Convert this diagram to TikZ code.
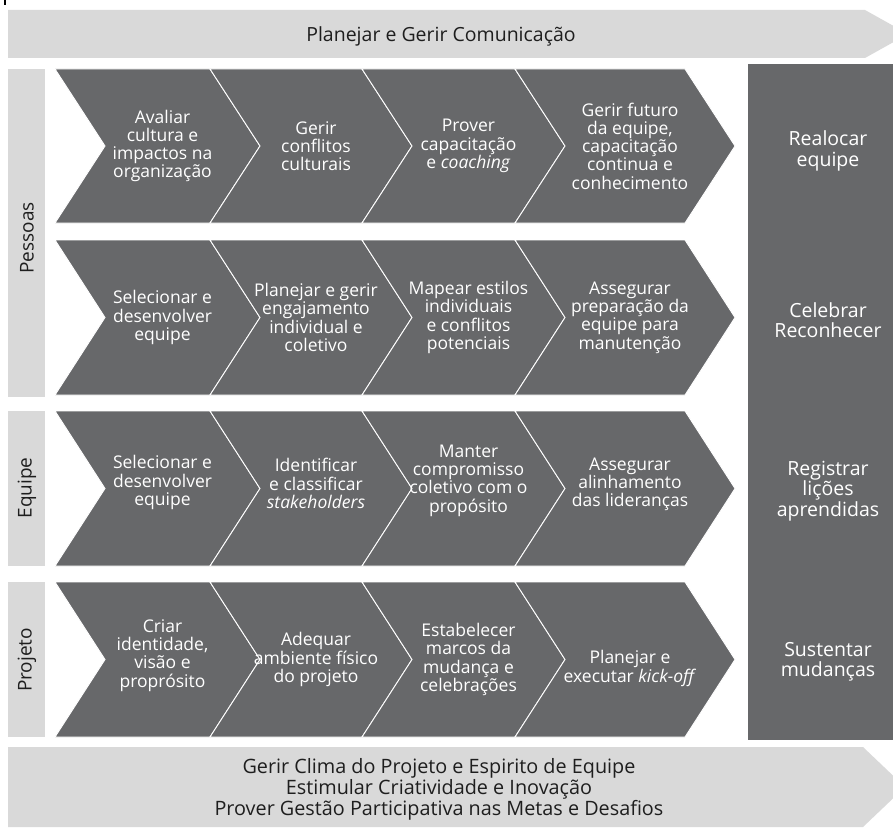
\documentclass[tikz,border=0pt]{standalone}
\usepackage{fontspec}
\setmainfont{Open Sans}
\usetikzlibrary{positioning}

\definecolor{chevgray}{RGB}{103,104,106}
\definecolor{bandgray}{RGB}{217,217,217}
\definecolor{textdark}{RGB}{30,30,30}

% chevron: name, left x, right x, top y, bottom y, text options, text
\newcommand{\chevron}[7]{%
  \filldraw[chevron] (#2,#4) -- (#3,#4) -- (#3+50,{(#4+#5)/2}) -- (#3,#5)
    -- (#2,#5) -- (#2+50,{(#4+#5)/2}) -- cycle;
  \node[chevtext,#6] (#1) at ({(#2+#3+50)/2+5},{(#4+#5)/2}) {#7};
}

\begin{document}
\begin{tikzpicture}[x=1pt,y=-1pt,
  chevron/.style={fill=chevgray,draw=white,line width=0.9pt},
  chevtext/.style={text=white,align=center,inner sep=0pt,font=\fontsize{17.5}{18.3}\selectfont},
  sidetext/.style={text=white,align=center,inner sep=0pt,font=\fontsize{19.5}{20.5}\selectfont},
  bandtext/.style={text=textdark,align=center,inner sep=0pt,font=\fontsize{19.8}{17.5}\selectfont},
  rowlabel/.style={text=textdark,rotate=90,inner sep=0pt,font=\fontsize{19}{20}\selectfont}]

	\useasboundingbox (0,0) rectangle (893,829);
	\clip (0,0) rectangle (893,829);

	\draw[black,line width=2pt] (5,0) -- (5,5);

	% top band
	\fill[bandgray] (8,10) -- (865,10) -- (908,34) -- (865,58) -- (8,58) -- cycle;
	\node[bandtext,font=\fontsize{19.5}{20}\selectfont] (comunicacao) at (441,36) {Planejar e Gerir Comunicação};

	% row labels
	\fill[bandgray] (8,69) rectangle (45,397);
	\fill[bandgray] (8,411) rectangle (45,566);
	\fill[bandgray] (8,582) rectangle (45,737);
	\node[rowlabel] (pessoas) at (27,238) {Pessoas};
	\node[rowlabel] (equipe) at (27,488) {Equipe};
	\node[rowlabel] (projeto) at (27,660) {Projeto};

	% Pessoas, first row
	\chevron{avaliar}{55}{210}{69}{223}{}{Avaliar\\cultura e\\impactos na\\organização}
	\chevron{conflitos}{210}{362}{69}{223}{}{Gerir\\conflitos\\culturais}
	\chevron{capacitacao}{362}{515}{69}{223}{}{Prover\\capacitação\\e \textit{coaching}}
	\chevron{futuro}{515}{685}{69}{223}{}{Gerir futuro\\da equipe,\\capacitação\\continua e\\conhecimento}

	% Pessoas, second row
	\chevron{selecionar}{55}{210}{240}{395}{}{Selecionar e\\desenvolver\\equipe}
	\chevron{engajamento}{210}{362}{240}{395}{}{Planejar e gerir\\engajamento\\individual e\\coletivo}
	\chevron{estilos}{362}{515}{240}{395}{}{Mapear estilos\\individuais\\e conflitos\\potenciais}
	\chevron{preparacao}{515}{685}{240}{395}{}{Assegurar\\preparação da\\equipe para\\manutenção}

	% Equipe
	\chevron{selequipe}{55}{210}{411}{566}{yshift=6pt}{Selecionar e\\desenvolver\\equipe}
	\chevron{stakeholders}{210}{362}{411}{566}{yshift=5pt}{Identificar\\e classificar\\\textit{stakeholders}}
	\chevron{compromisso}{362}{515}{411}{566}{yshift=8pt}{Manter\\compromisso\\coletivo com o\\propósito}
	\chevron{liderancas}{515}{685}{411}{566}{yshift=4pt}{Assegurar\\alinhamento\\das lideranças}

	% Projeto
	\chevron{identidade}{55}{210}{582}{737}{yshift=4pt}{Criar\\identidade,\\visão e\\proprósito}
	\chevron{ambiente}{210}{362}{582}{737}{}{Adequar\\ambiente físico\\do projeto}
	\chevron{marcos}{362}{515}{582}{737}{}{Estabelecer\\marcos da\\mudança e\\celebrações}
	\chevron{kickoff}{515}{685}{582}{737}{yshift=-9pt}{Planejar e\\executar \textit{kick-off}}

	% right column
	\fill[chevgray] (748,64) rectangle (908,740);
	\node[sidetext] (realocar) at (828,151) {Realocar\\equipe};
	\node[sidetext] (celebrar) at (828,320) {Celebrar\\Reconhecer};
	\node[sidetext] (licoes) at (828,491) {Registrar\\lições\\aprendidas};
	\node[sidetext] (sustentar) at (828,662) {Sustentar\\mudanças};

	% bottom band
	\fill[bandgray] (8,747) -- (863,747) -- (905,787) -- (863,827) -- (8,827) -- cycle;
	\node[bandtext] (clima) at (439,789) {Gerir Clima do Projeto e Espirito de Equipe\\Estimular Criatividade e Inovação\\Prover Gestão Participativa nas Metas e Desafios};
\end{tikzpicture}
\end{document}
